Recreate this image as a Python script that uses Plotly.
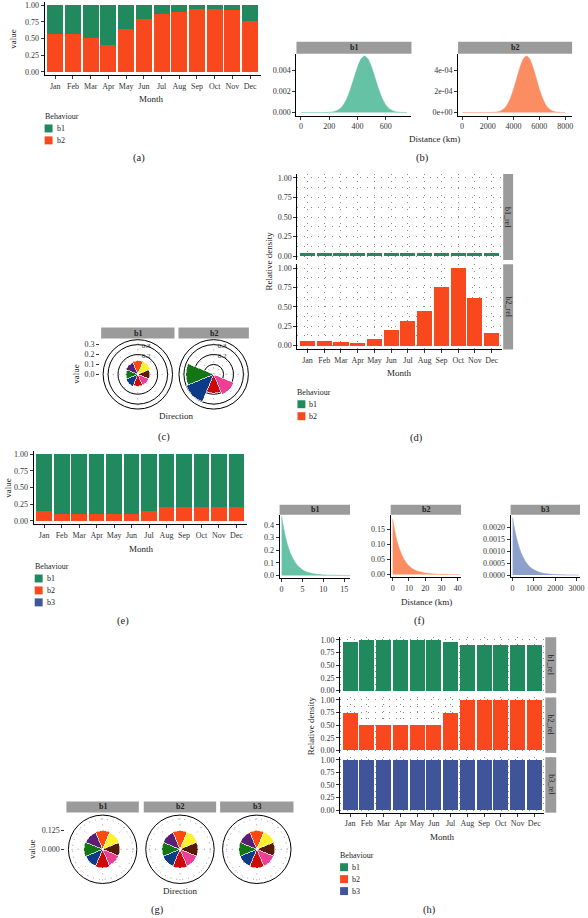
import plotly.graph_objects as go

W, H = 588, 918
FONT = "Liberation Serif"
TXT = "#222222"

GREEN = "#21895E"
RED = "#F9481E"
BLUE = "#405599"
S2_GREEN = "#66C2A5"
S2_ORANGE = "#FC8D62"
S2_BLUE = "#8DA0CB"
STRIP = "#9B9B9B"

months = ["Jan", "Feb", "Mar", "Apr", "May", "Jun", "Jul", "Aug", "Sep", "Oct", "Nov", "Dec"]
behaviours = ["b1", "b2", "b3"]

# (a) monthly proportions
a_b1 = [0.43, 0.43, 0.49, 0.59, 0.36, 0.20, 0.13, 0.10, 0.06, 0.05, 0.07, 0.24]
a_b2 = [0.57, 0.57, 0.51, 0.41, 0.64, 0.80, 0.87, 0.90, 0.94, 0.95, 0.93, 0.76]

# (b) distance densities
b_b1_km = [0, 100, 200, 225, 250, 275, 300, 325, 350, 375, 400, 425, 450, 475, 500,
           525, 550, 575, 600, 625, 650, 675, 700, 750]
b_b1_den = [0.0, 0.0, 0.00002, 0.00006, 0.00015, 0.00035, 0.00072, 0.00133, 0.00219,
            0.00323, 0.00426, 0.00503, 0.00532, 0.00503, 0.00426, 0.00323, 0.00219,
            0.00133, 0.00072, 0.00035, 0.00015, 0.00006, 0.00002, 0.0]
b_b2_km = [0, 1000, 2000, 2500, 2750, 3000, 3250, 3500, 3750, 4000, 4250, 4500, 4750, 5000,
           5250, 5500, 5750, 6000, 6250, 6500, 6750, 7000, 7250, 7500, 8000]
b_b2_den = [0.0, 0.0, 0.0, 0.000002, 0.000006, 0.000015, 0.000035, 0.000072, 0.000133,
            0.000219, 0.000323, 0.000426, 0.000503, 0.000532, 0.000503, 0.000426, 0.000323,
            0.000219, 0.000133, 0.000072, 0.000035, 0.000015, 0.000006, 0.000002, 0.0]

# (c) direction roses
directions = ["N", "NE", "E", "SE", "S", "SW", "W", "NW"]
dir_colors = ["#FF4A0F", "#FFF22C", "#5A1A08", "#EC3F95", "#CC0A0A", "#0D3B87", "#137513", "#5A1E74"]
c_b1 = [0.14, 0.14, 0.12, 0.12, 0.12, 0.13, 0.12, 0.13]
c_b2 = [0.0, 0.0, 0.0, 0.22, 0.19, 0.30, 0.28, 0.0]

# (d) relative density
d_b1_rel = [0.045, 0.045, 0.045, 0.045, 0.045, 0.045, 0.045, 0.045, 0.045, 0.045, 0.045, 0.045]
d_b2_rel = [0.06, 0.06, 0.05, 0.035, 0.09, 0.195, 0.32, 0.445, 0.75, 1.0, 0.62, 0.16]

# (e) monthly proportions
e_b1 = [0.85, 0.90, 0.90, 0.90, 0.90, 0.90, 0.85, 0.80, 0.80, 0.80, 0.80, 0.80]
e_b2 = [0.15, 0.10, 0.10, 0.10, 0.10, 0.10, 0.15, 0.20, 0.20, 0.20, 0.20, 0.20]

# (f) distance densities
f_b1_km = [0, 0.5, 1, 1.5, 2, 3, 4, 5, 6, 8, 10, 12, 14, 16.5]
f_b1_den = [0.47, 0.371, 0.294, 0.232, 0.183, 0.115, 0.072, 0.045, 0.028, 0.011, 0.0043,
            0.0017, 0.0007, 0.0002]
f_b2_km = [0, 1, 2, 3, 4, 6, 8, 10, 12, 15, 20, 25, 30, 35, 41]
f_b2_den = [0.185, 0.154, 0.128, 0.106, 0.088, 0.061, 0.042, 0.029, 0.020, 0.0115, 0.0046,
            0.0018, 0.0007, 0.0003, 0.0001]
f_b3_km = [0, 100, 200, 300, 400, 600, 800, 1000, 1250, 1500, 2000, 2500, 3000, 3100]
f_b3_den = [0.0024, 0.00189, 0.00149, 0.00117, 0.00092, 0.00057, 0.00035, 0.00022, 0.00012,
            0.000066, 0.00002, 0.000006, 0.000002, 0.0]

# (g) direction roses
g_b1 = [0.125, 0.12, 0.115, 0.115, 0.125, 0.12, 0.125, 0.12]
g_b2 = [0.125, 0.125, 0.12, 0.12, 0.125, 0.12, 0.12, 0.12]
g_b3 = [0.125, 0.125, 0.12, 0.12, 0.125, 0.12, 0.12, 0.12]

# (h) relative density
h_b1_rel = [0.95, 1.0, 1.0, 1.0, 1.0, 1.0, 0.95, 0.89, 0.89, 0.89, 0.89, 0.89]
h_b2_rel = [0.75, 0.5, 0.5, 0.5, 0.5, 0.5, 0.75, 1.0, 1.0, 1.0, 1.0, 1.0]
h_b3_rel = [1.0, 1.0, 1.0, 1.0, 1.0, 1.0, 1.0, 1.0, 1.0, 1.0, 1.0, 1.0]

rel_ticks = [0, 0.25, 0.5, 0.75, 1.0]
rel_text = ["0.00", "0.25", "0.50", "0.75", "1.00"]


def px_x(x):
    return x / W


def px_y(y):
    return 1 - y / H


shapes, annots, traces = [], [], []
layout = dict(width=W, height=H, autosize=False, margin=dict(l=0, r=0, t=0, b=0),
              paper_bgcolor="white", plot_bgcolor="white", barmode="stack", bargap=0.1,
              showlegend=False)


def rect(l, t, r, b, color):
    shapes.append(dict(type="rect", xref="paper", yref="paper", x0=px_x(l), x1=px_x(r),
                       y0=px_y(b), y1=px_y(t), fillcolor=color, line=dict(width=0), layer="above"))


def text(x, y, s, size=8, angle=0, bold=False, xanchor="center", color=TXT):
    if bold:
        s = "<b>" + s + "</b>"
    annots.append(dict(x=px_x(x), y=px_y(y), xref="paper", yref="paper", text=s, showarrow=False,
                       font=dict(family=FONT, size=size, color=color), textangle=angle,
                       xanchor=xanchor, yanchor="middle", borderpad=0))


def legend(x, y, names, colors):
    text(x - 1, y, "Behaviour", xanchor="left")
    for i, (n, c) in enumerate(zip(names, colors)):
        yy = y + 12 * (i + 1)
        rect(x, yy - 4, x + 8, yy + 4, c)
        text(x + 11, yy, n, xanchor="left")


def tickfont(size=8):
    return dict(family=FONT, size=size, color="#333333")


def axis(**kw):
    d = dict(showline=True, linecolor="black", linewidth=1, ticks="outside", ticklen=3,
             tickwidth=1, tickcolor="#333333", tickfont=tickfont(), showgrid=False,
             zeroline=False, fixedrange=True, ticklabeloverflow="allow")
    d.update(kw)
    return d


def cart(n, l, t, r, b, xkw, ykw):
    sx = "" if n == 1 else str(n)
    layout["xaxis" + sx] = axis(domain=[px_x(l), px_x(r)], anchor="y" + sx, **xkw)
    layout["yaxis" + sx] = axis(domain=[px_y(b), px_y(t)], anchor="x" + sx, **ykw)
    return "x" + sx, "y" + sx


def bar(xa, ya, vals, color, name):
    traces.append(go.Bar(x=months, y=vals, name=name, marker=dict(color=color, line=dict(width=0)),
                         xaxis=xa, yaxis=ya, showlegend=False))


def area(xa, ya, xs, ys, color):
    traces.append(go.Scatter(x=xs, y=ys, mode="lines", fill="tozeroy", fillcolor=color,
                             line=dict(color=color, width=0.6, shape="spline", smoothing=0.6),
                             xaxis=xa, yaxis=ya, showlegend=False))


def empty(xa, ya):
    traces.append(go.Scatter(x=[], y=[], mode="markers", xaxis=xa, yaxis=ya, showlegend=False,
                             hoverinfo="skip"))


GRID = dict(showgrid=True, gridcolor="#8a8a8a", gridwidth=1, griddash="1px,6px")
YMINOR = dict(tickvals=[0.125, 0.375, 0.625, 0.875], showgrid=True, gridcolor="#8a8a8a",
              gridwidth=1, griddash="1px,6px", ticks="")
CAT = dict(type="category", range=[-0.6, 11.6])
YREL = dict(range=[-0.05, 1.05], tickvals=rel_ticks, ticktext=rel_text)
TS = 9  # axis title size

# ---------------- (a) ----------------
xa, ya = cart(1, 45, 0, 263, 73.4, CAT, YREL)
bar(xa, ya, a_b2, RED, "b2")
bar(xa, ya, a_b1, GREEN, "b1")
text(13, 37, "value", size=TS, angle=-90)
text(153, 97, "Month", size=TS)
legend(45, 115, ["b1", "b2"], [GREEN, RED])
text(140, 157, "(a)", size=10.5)

# ---------------- (b) ----------------
xa, ya = cart(2, 299, 52, 415, 114,
              dict(range=[-32, 782], tickvals=[0, 200, 400, 600]),
              dict(range=[-0.00028, 0.00553], tickvals=[0, 0.002, 0.004],
                   ticktext=["0.000", "0.002", "0.004"]))
area(xa, ya, b_b1_km, b_b1_den, S2_GREEN)
xa, ya = cart(3, 462, 52, 577, 114,
              dict(range=[-310, 8540], tickvals=[0, 2000, 4000, 6000, 8000]),
              dict(range=[-0.000028, 0.000553], tickvals=[0, 0.0002, 0.0004],
                   ticktext=["0e+00", "2e-04", "4e-04"]))
area(xa, ya, b_b2_km, b_b2_den, S2_ORANGE)
rect(299, 40, 415, 52, STRIP)
text(357, 46, behaviours[0], bold=True)
rect(462, 40, 577, 52, STRIP)
text(519.5, 46, behaviours[1], bold=True)
text(438, 138, "Distance (km)", size=TS)
text(426, 157, "(b)", size=10.5)


# ---------------- polar helpers ----------------
def polar(name, cx, cy, r, rmax, rkw):
    rad = dict(range=[0, rmax], showline=False, ticks="", angle=90,
               tickfont=dict(family=FONT, size=7, color="#333333"))
    rad.update(rkw)
    layout[name] = dict(
        domain=dict(x=[px_x(cx - r), px_x(cx + r)], y=[px_y(cy + r), px_y(cy - r)]),
        bgcolor="white", bargap=0, radialaxis=rad,
        angularaxis=dict(rotation=90, direction="clockwise", showline=True, linecolor="black",
                         linewidth=1, ticks="", showticklabels=False, gridcolor="#9a9a9a",
                         griddash="1px,5px"))


def rose(sub, vals):
    traces.append(go.Barpolar(r=vals, theta=directions, subplot=sub,
                              marker=dict(color=dir_colors, line=dict(color="white", width=0.6)),
                              showlegend=False))


# ---------------- (c) ----------------
C_RAD = dict(tickvals=[0.1, 0.2, 0.3], ticktext=["", "0.2", "0.3"], showticklabels=True,
             gridcolor="black", gridwidth=1)
polar("polar", 139, 374, 35, 0.35, C_RAD)
polar("polar2", 215.5, 374, 35, 0.35, C_RAD)
rose("polar", c_b1)
rose("polar2", c_b2)
layout["xaxis4"] = dict(domain=[px_x(101), px_x(102)], anchor="y4", visible=False, range=[0, 1],
                        fixedrange=True)
layout["yaxis4"] = axis(domain=[px_y(409), px_y(339)], anchor="x4", showline=False,
                        range=[-0.35, 0.35], tickvals=[0, 0.1, 0.2, 0.3],
                        ticktext=["0.0", "0.1", "0.2", "0.3"])
empty("x4", "y4")
rect(102, 327, 176, 338, STRIP)
text(139, 332.5, behaviours[0], bold=True)
rect(180, 327, 251, 338, STRIP)
text(215.5, 332.5, behaviours[1], bold=True)
text(77, 373, "value", size=TS, angle=-90)
text(178, 416, "Direction", size=TS)
text(165, 437, "(c)", size=10.5)

# ---------------- (d) ----------------
xa, ya = cart(5, 300, 172.8, 506, 259.2,
              dict(CAT, showline=False, ticks="", showticklabels=False, **GRID),
              dict(YREL, minor=YMINOR, **GRID))
bar(xa, ya, d_b1_rel, GREEN, "b1")
xa, ya = cart(6, 300, 263.4, 506, 349,
              dict(CAT, **GRID),
              dict(YREL, minor=YMINOR, **GRID))
bar(xa, ya, d_b2_rel, RED, "b2")
rect(507.5, 172.8, 517.5, 259.2, STRIP)
text(512.5, 216, "b1_rel", angle=90)
rect(507.5, 263.4, 517.5, 349, STRIP)
text(512.5, 306, "b2_rel", angle=90)
text(271, 260, "Relative density", size=TS, angle=-90)
text(403, 373, "Month", size=TS)
legend(300, 392, ["b1", "b2"], [GREEN, RED])
text(420, 438, "(d)", size=10.5)

# ---------------- (e) ----------------
xa, ya = cart(7, 34, 451, 249, 524.3, CAT, YREL)
bar(xa, ya, e_b2, RED, "b2")
bar(xa, ya, e_b1, GREEN, "b1")
text(8, 488, "value", size=TS, angle=-90)
text(143, 549, "Month", size=TS)
legend(35, 567, ["b1", "b2", "b3"], [GREEN, RED, BLUE])
text(124, 622, "(e)", size=10.5)

# ---------------- (f) ----------------
xa, ya = cart(8, 282, 515, 353, 578.5,
              dict(range=[-0.48, 16.4], tickvals=[0, 5, 10, 15]),
              dict(range=[-0.02, 0.48], tickvals=[0, 0.1, 0.2, 0.3, 0.4],
                   ticktext=["0.0", "0.1", "0.2", "0.3", "0.4"]))
area(xa, ya, f_b1_km, f_b1_den, S2_GREEN)
xa, ya = cart(9, 394, 515, 465, 578,
              dict(range=[-1.22, 42.1], tickvals=[0, 10, 20, 30, 40]),
              dict(range=[-0.01, 0.2], tickvals=[0, 0.05, 0.10, 0.15],
                   ticktext=["0.00", "0.05", "0.10", "0.15"]))
area(xa, ya, f_b2_km, f_b2_den, S2_ORANGE)
xa, ya = cart(10, 515, 515, 585, 578,
              dict(range=[-93, 3163], tickvals=[0, 1000, 2000, 3000]),
              dict(range=[-0.0001, 0.00252], tickvals=[0, 0.0005, 0.001, 0.0015, 0.002],
                   ticktext=["0.0000", "0.0005", "0.0010", "0.0015", "0.0020"]))
area(xa, ya, f_b3_km, f_b3_den, S2_BLUE)
for (l, r), nm in zip([(282, 353), (394, 465), (515, 585)], behaviours):
    rect(l, 505, r, 515, STRIP)
    text((l + r) / 2, 510, nm, bold=True)
text(430, 603, "Distance (km)", size=TS)
text(423, 622, "(f)", size=10.5)

# ---------------- (g) ----------------
G_RAD = dict(tickvals=[0.1, 0.2], showticklabels=False, gridcolor="#9a9a9a",
             griddash="1px,5px")
for i, (cx, vals) in enumerate(zip([103.5, 181.5, 259], [g_b1, g_b2, g_b3])):
    name = "polar" + str(i + 4)
    polar(name, cx, 851, 34.5, 0.227, G_RAD)
    rose(name, vals)
layout["xaxis11"] = dict(domain=[px_x(66), px_x(67)], anchor="y11", visible=False, range=[0, 1],
                         fixedrange=True)
layout["yaxis11"] = axis(domain=[px_y(885.5), px_y(816.5)], anchor="x11", showline=False,
                         range=[-0.227, 0.227], tickvals=[0, 0.125],
                         ticktext=["0.000", "0.125"])
empty("x11", "y11")
for (l, r), nm in zip([(67, 140), (145, 218), (222, 296)], behaviours):
    rect(l, 803, r, 814, STRIP)
    text((l + r) / 2, 808.5, nm, bold=True)
text(33, 851, "value", size=TS, angle=-90)
text(182, 893, "Direction", size=TS)
text(159, 912, "(g)", size=10.5)

# ---------------- (h) ----------------
h_rows = [(638, 694.2), (698.5, 754.2), (758.5, 814.2)]
h_vals = [h_b1_rel, h_b2_rel, h_b3_rel]
h_cols = [GREEN, RED, BLUE]
for i, ((t, b), vals, col) in enumerate(zip(h_rows, h_vals, h_cols)):
    last = i == 2
    xkw = dict(CAT, **GRID) if last else dict(CAT, showline=False, ticks="",
                                               showticklabels=False, **GRID)
    xa, ya = cart(12 + i, 343, t, 549, b, xkw, dict(YREL, minor=YMINOR, **GRID))
    bar(xa, ya, vals, col, behaviours[i])
    rect(550, t, 561, b, STRIP)
    text(555.5, (t + b) / 2, behaviours[i] + "_rel", angle=90)
text(313, 727, "Relative density", size=TS, angle=-90)
text(446, 839, "Month", size=TS)
legend(343, 857, ["b1", "b2", "b3"], [GREEN, RED, BLUE])
text(433, 912, "(h)", size=10.5)

layout["shapes"] = shapes
layout["annotations"] = annots

fig = go.Figure(data=traces, layout=layout)
fig.write_html("out.html")
